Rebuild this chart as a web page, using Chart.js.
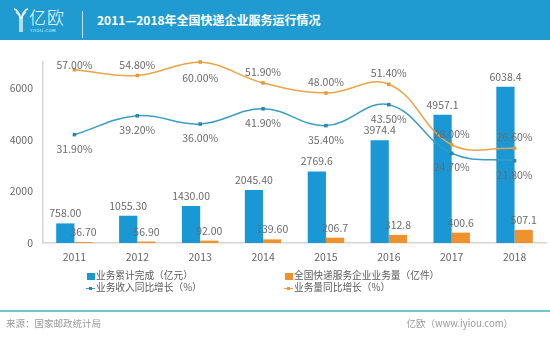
<!DOCTYPE html>
<html>
<head>
<meta charset="utf-8">
<script src="https://cdn.jsdelivr.net/npm/chart.js"></script>
<style>
  html, body { margin: 0; padding: 0; background: #fff; }
  body { width: 550px; height: 338px; position: relative; overflow: hidden; font-family: 'Noto Sans CJK SC', 'Noto Sans', sans-serif; }
  #chart { position: absolute; left: 0; top: 0; }
  .header { position: absolute; left: 0; top: 0; width: 550px; height: 40px; background: #1f9bd1; }
  .logo-text { position: absolute; left: 29px; top: 4px; color: #fff; font-size: 17px; letter-spacing: 1px; font-weight: 300; }
  .logo-sub { position: absolute; left: 30px; top: 28px; color: #dff1fa; font-size: 4px; letter-spacing: 0.5px; font-family: 'DejaVu Sans', sans-serif; }
  .divider { position: absolute; left: 82px; top: 11px; width: 1px; height: 27px; background: #bfe3f3; }
  .title { position: absolute; left: 97px; top: 11px; color: #fff; font-size: 12px; font-weight: bold; }
  .legend { position: absolute; font-size: 9.7px; color: #5a5a5a; white-space: nowrap; line-height: 12px; }
  .sw { display: inline-block; width: 8px; height: 7px; margin-right: 1px; vertical-align: -0.5px; }
  .ln { display: inline-block; position: relative; width: 9px; height: 7px; margin-right: 1px; vertical-align: -0.5px; }
  .ln i { position: absolute; left: 0; top: 3px; width: 9px; height: 1px; }
  .ln b { position: absolute; left: 3px; top: 2px; width: 3px; height: 3px; }
  .rule { position: absolute; left: 0; top: 310px; width: 550px; height: 2px; background: #74c6cd; }
  .foot { position: absolute; top: 316px; font-size: 9.5px; color: #999; }
</style>
</head>
<body>
<canvas id="chart" width="550" height="338"></canvas>

<div class="header">
  <svg style="position:absolute;left:13px;top:7px" width="16" height="26" viewBox="0 0 16 26">
    <g fill="none" stroke="#fff" stroke-width="1.3">
      <path d="M1 2 Q5 3 7 9 L7 25"/>
      <path d="M3 5 Q6 7 8 12"/>
      <path d="M15 2 Q11 3 9 9 L9 25"/>
      <path d="M13 5 Q10 7 8 12"/>
    </g>
  </svg>
  <div class="logo-text">亿欧</div>
  <div class="logo-sub">YIIOU.COM</div>
  <div class="divider"></div>
  <div class="title">2011—2018年全国快递企业服务运行情况</div>
</div>

<div class="legend" style="left:87px;top:269px"><span class="sw" style="background:#1a98d5"></span>业务累计完成（亿元）</div>
<div class="legend" style="left:285px;top:269px"><span class="sw" style="background:#f0922b"></span>全国快递服务企业业务量（亿件）</div>
<div class="legend" style="left:86px;top:281px"><span class="ln"><i style="background:#3b9dbf"></i><b style="background:#2a86a8"></b></span>业务收入同比增长（%）</div>
<div class="legend" style="left:284px;top:281px"><span class="ln"><i style="background:#e8a548"></i><b style="background:#e39a3a"></b></span>业务量同比增长（%）</div>

<div class="rule"></div>
<div class="foot" style="left:6px">来源：国家邮政统计局</div>
<div class="foot" style="right:37px">亿欧（www.iyiou.com）</div>

<script>
const years = ['2011', '2012', '2013', '2014', '2015', '2016', '2017', '2018'];
const revenue = [758.00, 1055.30, 1430.00, 2045.40, 2769.6, 3974.4, 4957.1, 6038.4];
const volume = [36.7, 56.9, 92.0, 139.6, 206.7, 312.8, 400.6, 507.1];
const revenueGrowth = [31.9, 39.2, 36.0, 41.9, 35.4, 43.5, 24.7, 21.8];
const volumeGrowth = [57.0, 54.8, 60.0, 51.9, 48.0, 51.4, 28.0, 26.6];
const revenueLabels = ['758.00', '1055.30', '1430.00', '2045.40', '2769.6', '3974.4', '4957.1', '6038.4'];
const volumeLabels = ['36.70', '56.90', '92.00', '139.60', '206.7', '312.8', '400.6', '507.1'];
const yTicks = [0, 2000, 4000, 6000];

const FONT = "'Noto Sans CJK SC', 'Noto Sans', sans-serif";

// value labels for bars and line points
const valueLabels = {
  id: 'valueLabels',
  afterDatasetsDraw(chart) {
    const ctx = chart.ctx;
    ctx.save();
    ctx.font = '10.5px ' + FONT;
    ctx.fillStyle = '#6a6a6a';
    ctx.textAlign = 'center';
    ctx.textBaseline = 'middle';
    chart.data.datasets.forEach((ds, i) => {
      const meta = chart.getDatasetMeta(i);
      meta.data.forEach((el, j) => {
        let text, y;
        if (ds.type === 'line') {
          text = ds.data[j].toFixed(2) + '%';
          if (ds.labelSide === 'below') {
            y = el.y + 14;
          } else {
            const max = Math.max(...ds.data);
            y = ds.data[j] === max ? el.y + 16 : Math.max(el.y - 11, 65);
          }
        } else {
          text = ds.labels[j];
          y = el.y - 10;
        }
        ctx.fillText(text, el.x, y);
      });
    });
    ctx.restore();
  }
};

new Chart(document.getElementById('chart'), {
  type: 'bar',
  data: {
    labels: years,
    datasets: [
      {
        type: 'line', label: '业务收入同比增长（%）', data: revenueGrowth, yAxisID: 'y1',
        borderColor: '#3b9dbf', backgroundColor: '#2a86a8', borderWidth: 1.5,
        tension: 0.4, pointStyle: 'rect', pointRadius: 2.5, pointBorderWidth: 0,
        clip: false, order: 0, labelSide: 'below'
      },
      {
        type: 'line', label: '业务量同比增长（%）', data: volumeGrowth, yAxisID: 'y1',
        borderColor: '#e8a548', backgroundColor: '#e39a3a', borderWidth: 1.5,
        tension: 0.4, pointStyle: 'rect', pointRadius: 2.5, pointBorderWidth: 0,
        clip: false, order: 0, labelSide: 'above'
      },
      {
        label: '业务累计完成（亿元）', data: revenue, labels: revenueLabels,
        backgroundColor: '#1a98d5', categoryPercentage: 0.58, barPercentage: 1, order: 1
      },
      {
        label: '全国快递服务企业业务量（亿件）', data: volume, labels: volumeLabels,
        backgroundColor: '#f0922b', categoryPercentage: 0.58, barPercentage: 1, order: 1
      }
    ]
  },
  options: {
    responsive: false,
    animation: false,
    layout: { padding: { left: 0, top: 62, right: 3, bottom: 70 } },
    plugins: { legend: { display: false }, tooltip: { enabled: false } },
    scales: {
      x: {
        grid: { display: false, drawTicks: false },
        border: { display: true, color: '#d6d6d6', width: 1.5 },
        ticks: { color: '#666', font: { family: FONT, size: 10.5 }, padding: 8 },
        afterFit(scale) { scale.height = 25; }
      },
      y: {
        min: 0, max: 7000,
        grid: { display: false, drawTicks: false },
        border: { display: true, color: '#d6d6d6', width: 1.5 },
        ticks: { color: '#666', font: { family: FONT, size: 10.5 }, padding: 10, callback: v => String(v) },
        afterBuildTicks(scale) { scale.ticks = yTicks.map(v => ({ value: v })); },
        afterFit(scale) { scale.width = 43; }
      },
      y1: { display: false, min: -10, max: 60 }
    }
  },
  plugins: [valueLabels]
});
</script>
</body>
</html>
